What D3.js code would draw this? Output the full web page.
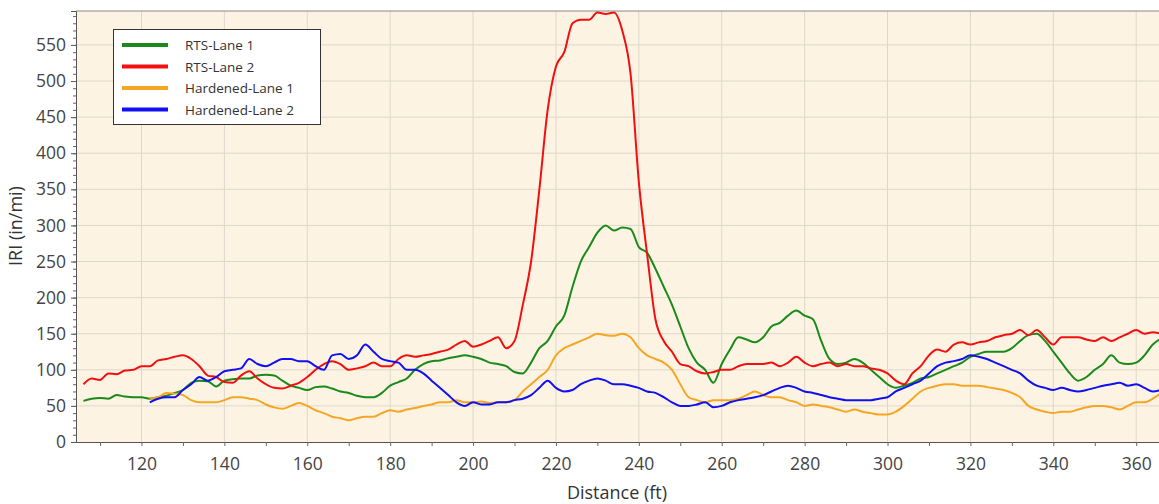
<!DOCTYPE html>
<html><head><meta charset="utf-8">
<script src="https://cdn.jsdelivr.net/npm/d3@7"></script>
<style>body{margin:0;background:#fff}svg{display:block}text{font-family:"Open Sans","DejaVu Sans",sans-serif}</style>
</head><body><svg id="c" width="1159" height="504"></svg>
<script>
const distance = d3.range(106, 367, 2);
const seriesNames = ["RTS-Lane 1","RTS-Lane 2","Hardened-Lane 1","Hardened-Lane 2"];
const seriesColors = ["#1a8a1a","#f01010","#f5a623","#1010f0"];
const rtsLane1 = [57,60,61,60,65,63,62,62,60,62,64,68,72,82,85,84,77,85,87,88,88,92,93,92,85,78,75,72,76,77,74,70,68,64,62,62,68,78,83,88,100,108,112,113,116,118,120,118,115,110,108,105,97,95,110,130,140,160,175,215,250,270,290,300,293,297,295,270,262,240,215,190,160,130,110,100,82,108,128,145,142,138,145,160,165,175,182,175,170,140,115,108,110,115,110,100,90,80,75,78,82,88,90,95,100,105,110,118,122,125,125,125,130,140,148,150,140,125,110,95,85,90,100,108,120,110,108,110,120,135,143];
const rtsLane2 = [80,88,86,95,94,99,100,105,105,113,115,118,120,115,105,92,90,83,82,92,98,88,80,75,74,78,82,90,100,108,112,108,100,102,105,110,105,105,115,120,118,120,122,125,128,135,140,132,135,140,145,130,140,190,250,350,460,520,540,580,585,585,595,593,595,570,510,360,260,170,140,125,108,105,98,95,97,100,100,105,108,108,108,110,105,110,118,110,105,108,110,105,108,105,105,102,100,95,85,80,95,105,120,128,125,135,138,135,138,140,145,148,150,155,148,155,145,135,145,145,145,142,140,145,140,145,150,155,150,152,150];
const hardenedLane1 = [null,null,null,null,null,null,null,null,60,62,68,67,65,58,55,55,55,58,62,62,60,58,52,48,46,50,54,50,44,40,35,33,30,33,35,35,40,44,42,45,47,50,52,55,55,58,55,55,56,54,55,55,58,70,80,90,100,120,130,135,140,145,150,148,147,150,145,130,120,115,110,100,80,62,58,55,58,58,58,60,65,70,65,62,62,58,55,50,52,50,48,45,42,45,42,40,38,38,42,50,60,70,75,78,80,80,78,78,78,76,74,72,68,62,50,45,42,40,42,42,45,48,50,50,48,45,50,55,55,60,68];
const hardenedLane2 = [null,null,null,null,null,null,null,null,55,60,62,62,72,80,90,85,90,98,100,102,115,108,105,110,115,115,112,112,105,100,120,122,115,120,135,125,115,112,110,100,100,95,85,75,65,55,50,55,52,52,55,55,58,60,65,75,85,75,70,72,80,85,88,85,80,80,78,75,70,68,62,55,50,50,52,55,48,50,55,58,60,62,65,70,75,78,75,70,68,65,62,60,58,58,58,58,60,62,70,75,80,85,95,105,110,112,115,120,118,115,110,105,100,95,85,78,75,72,75,72,70,72,75,78,80,82,78,80,75,70,72];
const xTicks = [120,140,160,180,200,220,240,260,280,300,320,340,360];
const yTicks = [0,50,100,150,200,250,300,350,400,450,500,550];
const allSeries = [rtsLane1, rtsLane2, hardenedLane1, hardenedLane2];

const svg = d3.select("#c");
const L=76, T=11, R=1159, B=442;
const x = d3.scaleLinear().domain([104.2,365.5]).range([L,R]);
const y = d3.scaleLinear().domain([0,597]).range([B,T]);
svg.append("rect").attr("x",L).attr("y",T).attr("width",R-L).attr("height",B-T).attr("fill","#fdf3e3");
const g = svg.append("g");
g.selectAll(".gx").data(xTicks).join("line").attr("x1",d=>x(d)).attr("x2",d=>x(d)).attr("y1",T).attr("y2",B).attr("stroke","#ddd8cc");
g.selectAll(".gy").data(yTicks.slice(1)).join("line").attr("x1",L).attr("x2",R).attr("y1",d=>y(d)).attr("y2",d=>y(d)).attr("stroke","#ddd8cc");
svg.append("line").attr("x1",L).attr("x2",R).attr("y1",T).attr("y2",T).attr("stroke","#888");
const ax = svg.append("g").attr("transform",`translate(0,${B})`).call(d3.axisBottom(x).tickValues(xTicks).tickSize(0).tickPadding(16));
ax.selectAll("text").attr("font-size",17.5).attr("fill","#444");
ax.select(".domain").attr("stroke","#555");
svg.append("g").attr("transform",`translate(0,${B})`).call(d3.axisBottom(x).tickValues(d3.range(110,366,10)).tickSize(4).tickFormat(""))
  .call(s=>{s.select(".domain").remove();s.selectAll("line").attr("stroke","#666");});
const ay = svg.append("g").attr("transform",`translate(${L},0)`).call(d3.axisLeft(y).tickValues(yTicks).tickSize(5).tickPadding(5));
ay.selectAll("text").attr("font-size",17.5).attr("fill","#444");
ay.selectAll("line").attr("stroke","#555");
ay.select(".domain").attr("stroke","#555");
svg.append("g").attr("transform",`translate(${L},0)`).call(d3.axisLeft(y).tickValues(d3.range(10,597,10)).tickSize(3).tickFormat(""))
  .call(s=>{s.select(".domain").remove();s.selectAll("line").attr("stroke","#666");});
const line = d3.line().defined(d=>d[1]!=null).x(d=>x(d[0])).y(d=>y(d[1])).curve(d3.curveMonotoneX);
svg.append("clipPath").attr("id","cp").append("rect").attr("x",L).attr("y",T).attr("width",R-L).attr("height",B-T);
allSeries.forEach((s,i)=>{
  svg.append("path").attr("clip-path","url(#cp)").datum(distance.map((d,j)=>[d,s[j]])).attr("d",line)
    .attr("fill","none").attr("stroke",seriesColors[i]).attr("stroke-width",2);
});
svg.append("text").attr("x",617).attr("y",499).attr("text-anchor","middle").attr("font-size",18).attr("fill","#333").text("Distance (ft)");
svg.append("text").attr("transform","translate(22,226) rotate(-90)").attr("text-anchor","middle").attr("font-size",18).attr("fill","#333").text("IRI (in/mi)");
const lg = svg.append("g");
lg.append("rect").attr("x",113.5).attr("y",29.5).attr("width",207).attr("height",95).attr("fill","#fff").attr("stroke","#333");
seriesNames.forEach((n,i)=>{
  const yy=45+i*21.5;
  lg.append("line").attr("x1",122).attr("x2",168).attr("y1",yy).attr("y2",yy).attr("stroke",seriesColors[i]).attr("stroke-width",4);
  lg.append("text").attr("x",185).attr("y",yy+5).attr("font-size",13.5).attr("fill","#333").text(n);
});
</script></body></html>
